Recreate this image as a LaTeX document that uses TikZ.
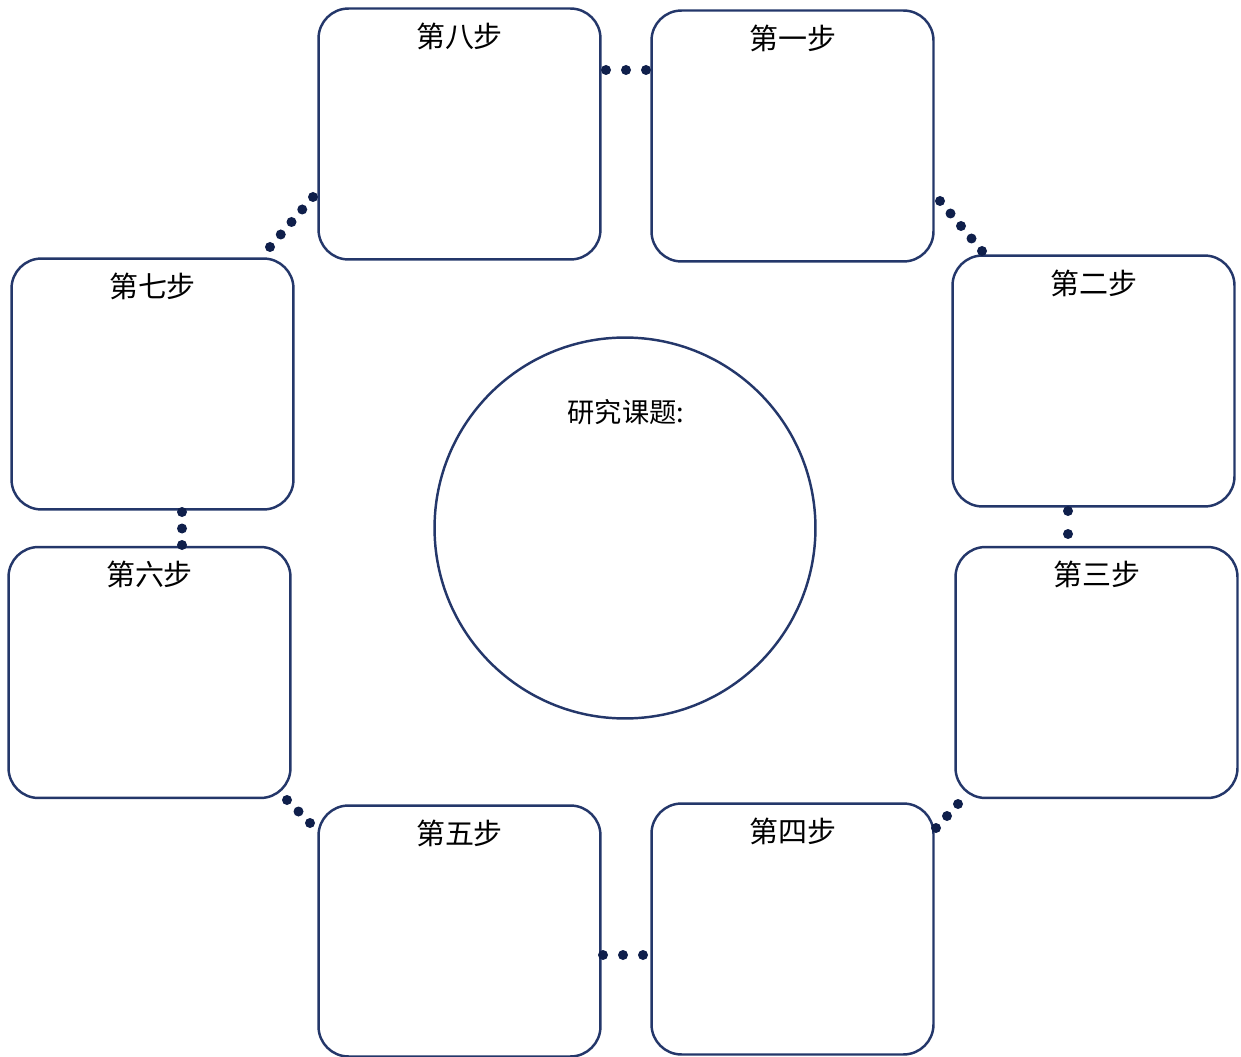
\documentclass[tikz,border=0pt]{standalone}
\usepackage{fontspec}
\usepackage{xcolor}
\usetikzlibrary{calc}
\newfontfamily\cjk{Noto Sans CJK SC}
\definecolor{boxline}{HTML}{24376A}
\definecolor{dotcol}{HTML}{0F1F4B}

\begin{document}
\begin{tikzpicture}[x=0.02cm,y=-0.02cm,
        stepbox/.style={draw=boxline,line width=1.4pt,rounded corners=0.6cm,minimum width=5.64cm,minimum height=5.02cm,inner sep=0pt},
        steptitle/.style={anchor=center,yshift=-0.58cm,font=\cjk\fontsize{16.5}{19}\selectfont},
        topicbox/.style={draw=boxline,line width=1.4pt,circle,minimum size=7.62cm,inner sep=0pt}]
            \useasboundingbox (0,0) rectangle (1241,1057);
            \node (step1) at (792.5,136) [stepbox] {};
            \node (step2) at (1093.5,381) [stepbox] {};
            \node (step3) at (1096.5,672.5) [stepbox] {};
            \node (step4) at (792.5,929) [stepbox] {};
            \node (step5) at (459.5,931) [stepbox] {};
            \node (step6) at (149.5,672.5) [stepbox] {};
            \node (step7) at (152.5,384) [stepbox] {};
            \node (step8) at (459.5,134) [stepbox] {};
            \node (t1) at (step1.north) [steptitle] {第一步};
            \node (t2) at (step2.north) [steptitle] {第二步};
            \node (t3) at (step3.north) [steptitle] {第三步};
            \node (t4) at (step4.north) [steptitle] {第四步};
            \node (t5) at (step5.north) [steptitle] {第五步};
            \node (t6) at (step6.north) [steptitle] {第六步};
            \node (t7) at (step7.north) [steptitle] {第七步};
            \node (t8) at (step8.north) [steptitle] {第八步};
            \node (topic) at (625,528) [topicbox] {};
            \node (title) at (626,412) [font=\cjk\fontsize{15.5}{18}\selectfont] {研究课题:};
            % dotted links between the steps
            \coordinate (a81) at (606,70);   \coordinate (b81) at (646,70);
            \coordinate (a12) at (940,201);  \coordinate (b12) at (982,251);
            \coordinate (a23) at (1068,511); \coordinate (b23) at (1068,534);
            \coordinate (a34) at (958,804);  \coordinate (b34) at (936,828);
            \coordinate (a45) at (643,955);  \coordinate (b45) at (603,955);
            \coordinate (a56) at (310,823);  \coordinate (b56) at (287,800);
            \coordinate (a67) at (182,545);  \coordinate (b67) at (182,512);
            \coordinate (a78) at (270,247);  \coordinate (b78) at (313,197);
            \foreach \a/\b/\n in {a81/b81/2,a12/b12/4,a23/b23/1,a34/b34/2,a45/b45/2,a56/b56/2,a67/b67/2,a78/b78/4}
                \foreach \i in {0,...,\n}
                    \fill[dotcol] ($(\a)!{\i/\n}!(\b)$) circle (5);
        \end{tikzpicture}
\end{document}
